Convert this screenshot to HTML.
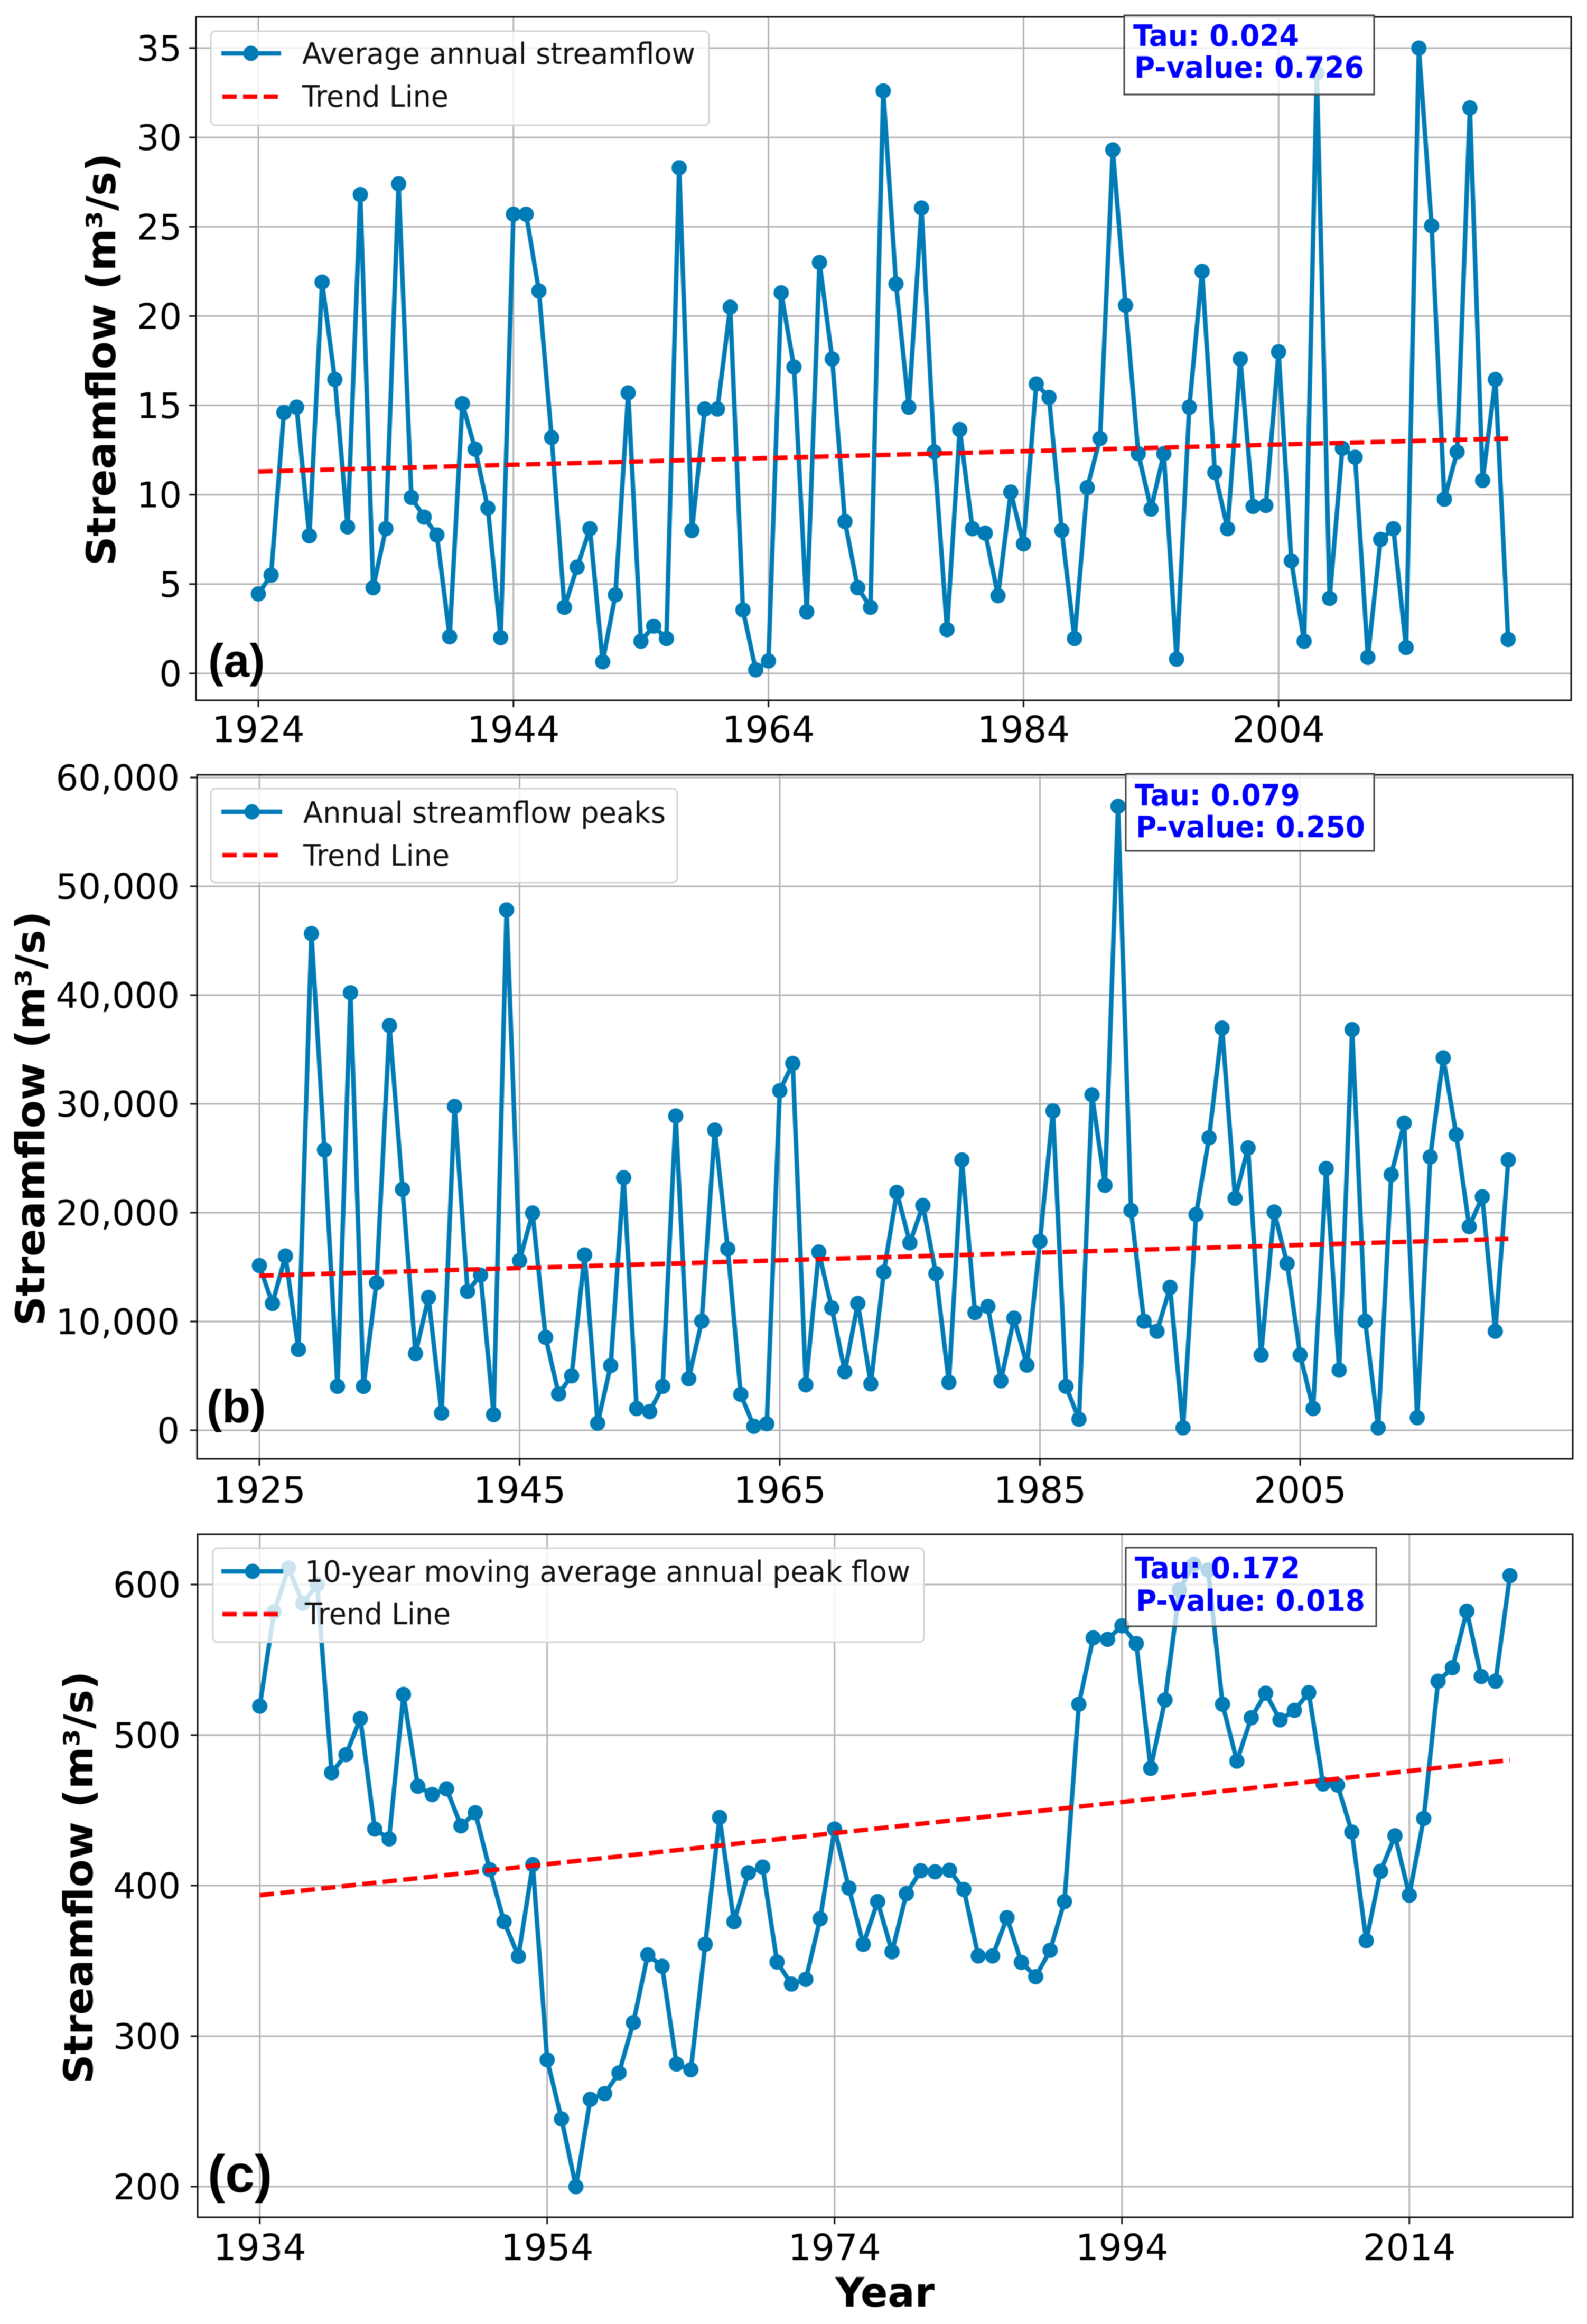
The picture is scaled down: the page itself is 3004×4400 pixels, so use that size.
<!DOCTYPE html>
<html lang="en">
<head>
<meta charset="utf-8">
<title>Streamflow charts</title>
<style>
html,body{margin:0;padding:0;background:#fff}
svg{display:block;filter:blur(0.9px)}
text{font-family:"DejaVu Sans","Liberation Sans",sans-serif;fill:#000}
.tick-x{font-size:69px}
.tick-y{font-size:67px}
.ylab{font-size:76px;font-weight:bold}
.leg{font-size:56px;fill:#111}
.stat{font-size:56px;font-weight:bold;fill:#0000ff}
.panel{font-family:"Liberation Sans",sans-serif;font-weight:bold;font-size:88px}
</style>
</head>
<body>
<svg id="chart" xmlns="http://www.w3.org/2000/svg" width="3004" height="4400" viewBox="0 0 3004 4400">
<rect x="0" y="0" width="3004" height="4400" fill="#fff"/>

<g id="panel-a">
  <g id="a-grid"></g><g id="a-marks"></g>
  <rect x="371" y="32" width="2603" height="1294" fill="none" stroke="#111" stroke-width="3"/>
  <g id="a-ticks"></g>
  <text class="ylab" transform="translate(218,1071) rotate(-90)" textLength="781" lengthAdjust="spacingAndGlyphs">Streamflow (m³/s)</text>
  <text class="panel" x="394" y="1281">(a)</text>
  <g>
    <rect x="399" y="59" width="943" height="178" rx="9" fill="#fff" fill-opacity="0.8" stroke="#d4d4d4" stroke-width="3"/>
    <line x1="419" x2="532" y1="101" y2="101" stroke="#007bb5" stroke-width="8.5"/>
    <circle cx="475" cy="101" r="14.5" fill="#007bb5"/>
    <text class="leg" x="572" y="121" textLength="744" lengthAdjust="spacingAndGlyphs">Average annual streamflow</text>
    <line x1="421" x2="532" y1="183" y2="183" stroke="#ff0000" stroke-width="8.5" stroke-dasharray="27 12"/>
    <text class="leg" x="572" y="202" textLength="277" lengthAdjust="spacingAndGlyphs">Trend Line</text>
  </g>
  <g>
    <rect x="2128" y="29" width="473" height="150" fill="#fff" fill-opacity="0.8" stroke="#444" stroke-width="3"/>
    <text class="stat" x="2145" y="87" textLength="314" lengthAdjust="spacingAndGlyphs">Tau: 0.024</text>
    <text class="stat" x="2147" y="147" textLength="435" lengthAdjust="spacingAndGlyphs">P-value: 0.726</text>
  </g>
</g>

<g id="panel-b">
  <g id="b-grid"></g><g id="b-marks"></g>
  <rect x="373" y="1467" width="2604" height="1295" fill="none" stroke="#111" stroke-width="3"/>
  <g id="b-ticks"></g>
  <text class="ylab" transform="translate(84,2510) rotate(-90)" textLength="785" lengthAdjust="spacingAndGlyphs">Streamflow (m³/s)</text>
  <text class="panel" x="391" y="2693">(b)</text>
  <g>
    <rect x="399" y="1493" width="883" height="178" rx="9" fill="#fff" fill-opacity="0.8" stroke="#d4d4d4" stroke-width="3"/>
    <line x1="419" x2="534" y1="1537" y2="1537" stroke="#007bb5" stroke-width="8.5"/>
    <circle cx="477" cy="1537" r="14.5" fill="#007bb5"/>
    <text class="leg" x="574" y="1558" textLength="686" lengthAdjust="spacingAndGlyphs">Annual streamflow peaks</text>
    <line x1="421" x2="534" y1="1619" y2="1619" stroke="#ff0000" stroke-width="8.5" stroke-dasharray="27 12"/>
    <text class="leg" x="574" y="1639" textLength="277" lengthAdjust="spacingAndGlyphs">Trend Line</text>
  </g>
  <g>
    <rect x="2131" y="1465" width="470" height="146" fill="#fff" fill-opacity="0.8" stroke="#444" stroke-width="3"/>
    <text class="stat" x="2148" y="1525" textLength="313" lengthAdjust="spacingAndGlyphs">Tau: 0.079</text>
    <text class="stat" x="2150" y="1585" textLength="434" lengthAdjust="spacingAndGlyphs">P-value: 0.250</text>
  </g>
</g>

<g id="panel-c">
  <g id="c-grid"></g><g id="c-marks"></g>
  <rect x="374" y="2905" width="2603" height="1293" fill="none" stroke="#111" stroke-width="3"/>
  <g id="c-ticks"></g>
  <text class="ylab" transform="translate(175,3945) rotate(-90)" textLength="781" lengthAdjust="spacingAndGlyphs">Streamflow (m³/s)</text>
  <text class="panel" x="393" y="4150" style="font-size:100px">(c)</text>
  <text class="ylab" x="1581" y="4367" style="font-size:77px" textLength="188" lengthAdjust="spacingAndGlyphs">Year</text>
  <g>
    <rect x="403" y="2931" width="1346" height="178" rx="9" fill="#fff" fill-opacity="0.8" stroke="#d4d4d4" stroke-width="3"/>
    <line x1="419" x2="536" y1="2975" y2="2975" stroke="#007bb5" stroke-width="8.5"/>
    <circle cx="478" cy="2975" r="14.5" fill="#007bb5"/>
    <text class="leg" x="577" y="2995" textLength="1146" lengthAdjust="spacingAndGlyphs">10-year moving average annual peak flow</text>
    <line x1="421" x2="536" y1="3056" y2="3056" stroke="#ff0000" stroke-width="8.5" stroke-dasharray="27 12"/>
    <text class="leg" x="577" y="3075" textLength="276" lengthAdjust="spacingAndGlyphs">Trend Line</text>
  </g>
  <g>
    <rect x="2131" y="2930" width="474" height="149" fill="#fff" fill-opacity="0.7" stroke="#444" stroke-width="3"/>
    <text class="stat" x="2148" y="2988" textLength="313" lengthAdjust="spacingAndGlyphs">Tau: 0.172</text>
    <text class="stat" x="2150" y="3050" textLength="434" lengthAdjust="spacingAndGlyphs">P-value: 0.018</text>
  </g>
</g>
</svg>

<script>
// Panel (a): average annual streamflow
const startYearA = 1924;
const seriesA = [4.45,5.5,14.6,14.9,7.7,21.9,16.45,8.2,26.8,4.8,
  8.1,27.4,9.85,8.75,7.75,2.05,15.1,12.55,9.25,2.0,
  25.7,25.7,21.4,13.2,3.7,5.95,8.1,0.65,4.4,15.7,
  1.8,2.65,1.95,28.3,8.0,14.8,14.8,20.5,3.55,0.2,
  0.7,21.3,17.15,3.45,23.0,17.6,8.5,4.8,3.7,32.6,
  21.8,14.9,26.05,12.4,2.45,13.65,8.1,7.85,4.35,10.15,
  7.25,16.2,15.45,8.0,1.95,10.4,13.15,29.3,20.6,12.3,
  9.2,12.3,0.8,14.9,22.5,11.25,8.1,17.6,9.35,9.4,
  18.0,6.3,1.8,33.6,4.2,12.6,12.1,0.9,7.5,8.1,
  1.45,35,25.05,9.75,12.4,31.65,10.8,16.45,1.9];
const trendA = [11.3,13.15];
const xTicksA = [1924,1944,1964,1984,2004];
const yTicksA = [0,5,10,15,20,25,30,35];

// Panel (b): annual streamflow peaks
const startYearB = 1925;
const seriesB = [15140,11660,16020,7430,45650,25770,4040,40220,4040,13560,
  37200,22150,7060,12210,1580,29770,12770,14260,1440,47830,
  15600,19970,8545,3340,5015,16115,650,5945,23220,2000,
  1720,4040,28890,4740,10030,27590,16670,3300,370,600,
  31210,33720,4180,16390,11240,5390,11660,4270,14540,21870,
  17230,20670,14400,4410,24850,10820,11380,4550,10310,5990,
  17370,29350,4040,1020,30840,22520,57350,20200,10030,9100,
  13140,230,19830,26890,36970,21320,25960,6920,20060,15330,
  6920,2000,24060,5530,36830,10030,230,23500,28240,1160,
  25120,34230,27170,18720,21460,9100,24850];
const trendB = [14210,17600];
const xTicksB = [1925,1945,1965,1985,2005];
const yTicksB = [0,10000,20000,30000,40000,50000,60000];

// Panel (c): 10-year moving average annual peak flow
const startYearC = 1934;
const seriesC = [519.2,582,611,587.5,600,475,487,511,437.6,431,
  527,466,460.5,464.3,439.7,448.4,410.6,376,353,414,
  284.3,245,200,258,261.8,275.6,309,354,346.4,281.5,
  277.7,361,445.3,376,408.5,412.3,349.2,334.6,337.7,378,
  437.6,398.4,361,389.4,356,394.6,409.9,409.2,410.2,397.4,
  353.3,353.3,378.7,349,339.5,357,389.4,520.5,564.6,563.6,
  572.6,560.8,477.9,523.3,596.5,613.5,609.7,520.5,482.7,511.5,
  527.8,510.1,516.4,528.2,467.5,466.8,435.6,363.4,409.5,433.1,
  393.6,444.6,535.8,544.8,582.3,538.9,535.8,605.9];
const trendC = [393.6,483.4];
const xTicksC = [1934,1954,1974,1994,2014];
const yTicksC = [200,300,400,500,600];

const NS = 'http://www.w3.org/2000/svg';
const BLUE = '#007bb5';

function make(parent, tag, attrs) {
  const el = document.createElementNS(NS, tag);
  for (const k in attrs) el.setAttribute(k, attrs[k]);
  parent.appendChild(el);
  return el;
}

function drawPanel(id, geom, startYear, series, trend, xTicks, yTicks) {
  const xScale = function (year) {
    return geom.x0 + (year - geom.yearRef) * geom.pxPerYear;
  };
  const yScale = function (v) {
    return geom.y0 - (v - geom.valRef) * geom.pxPerUnit;
  };
  const grid = document.getElementById(id + '-grid');
  const marks = document.getElementById(id + '-marks');
  const ticks = document.getElementById(id + '-ticks');

  xTicks.forEach(function (t) {
    const x = xScale(t);
    const g = make(grid, 'line', {x1: x, x2: x, y1: geom.top, y2: geom.bottom, stroke: '#b4b4b4', 'stroke-width': 3});
    
    
    const m = make(ticks, 'line', {x1: x, x2: x, y1: geom.bottom, y2: geom.bottom + 13, stroke: '#111', 'stroke-width': 3});
    
    
    const l = make(ticks, 'text', {x: x, y: geom.xLabelY, 'text-anchor': 'middle', class: 'tick-x'});
    l.textContent = String(t);
    
    
  });

  yTicks.forEach(function (t) {
    const y = yScale(t);
    const g = make(grid, 'line', {x1: geom.left, x2: geom.right, y1: y, y2: y, stroke: '#b4b4b4', 'stroke-width': 3});
    
    
    const m = make(ticks, 'line', {x1: geom.left - 13, x2: geom.left, y1: y, y2: y, stroke: '#111', 'stroke-width': 3});
    
    
    const l = make(ticks, 'text', {x: geom.yLabelX, y: y + 24, 'text-anchor': 'end', class: 'tick-y'});
    l.textContent = t.toLocaleString('en-US');
    
    
  });

  const pts = series.map(function (v, i) {
    return xScale(startYear + i).toFixed(1) + ',' + yScale(v).toFixed(1);
  });
  const line = make(marks, 'polyline', {points: pts.join(' '), fill: 'none', stroke: BLUE, 'stroke-width': 8.5, 'stroke-linejoin': 'round'});
  
  

  series.forEach(function (v, i) {
    const c = make(marks, 'circle', {cx: xScale(startYear + i), cy: yScale(v), r: 14.5, fill: BLUE});
    
    
  });

  const lastYear = startYear + series.length - 1;
  const tr = make(marks, 'line', {x1: xScale(startYear), y1: yScale(trend[0]), x2: xScale(lastYear), y2: yScale(trend[1]), stroke: '#ff0000', 'stroke-width': 8.5, 'stroke-dasharray': '27 12'});
  
  
}

drawPanel('a', {left: 371, right: 2974, top: 32, bottom: 1326, x0: 489, yearRef: 1924, pxPerYear: 24.14, y0: 1275, valRef: 0, pxPerUnit: 33.83, xLabelY: 1405, yLabelX: 344},
  startYearA, seriesA, trendA, xTicksA, yTicksA);
drawPanel('b', {left: 373, right: 2977, top: 1467, bottom: 2762, x0: 491, yearRef: 1925, pxPerYear: 24.625, y0: 2708, valRef: 0, pxPerUnit: 0.0206, xLabelY: 2845, yLabelX: 340},
  startYearB, seriesB, trendB, xTicksB, yTicksB);
drawPanel('c', {left: 374, right: 2977, top: 2905, bottom: 4198, x0: 491.7, yearRef: 1934, pxPerYear: 27.2, y0: 4140, valRef: 200, pxPerUnit: 2.85, xLabelY: 4279, yLabelX: 342},
  startYearC, seriesC, trendC, xTicksC, yTicksC);
</script>
</body>
</html>
